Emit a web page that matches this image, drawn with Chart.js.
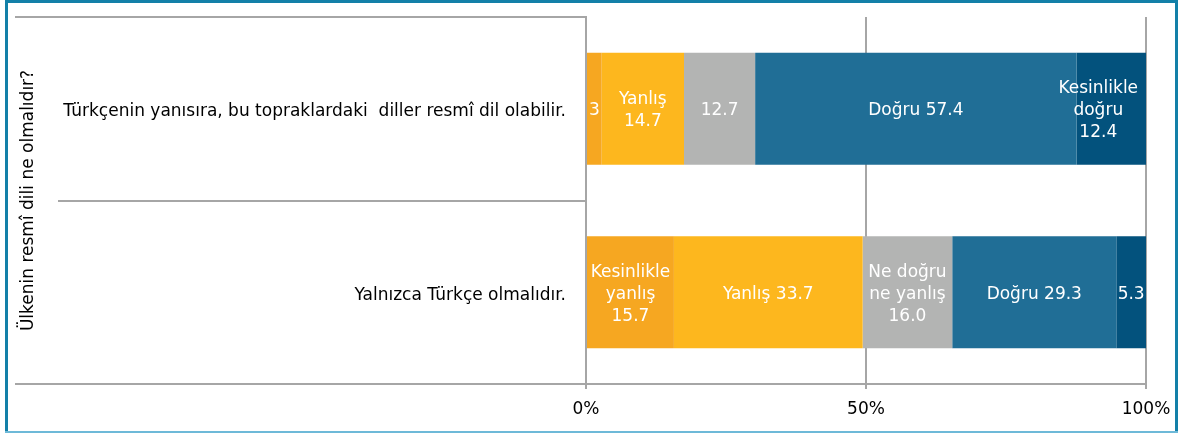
<!DOCTYPE html>
<html><head><meta charset="utf-8">
<script src="https://cdn.jsdelivr.net/npm/chart.js@4/dist/chart.umd.min.js"></script>
<style>html,body{margin:0;padding:0;background:#fff;overflow:hidden;} #wrap{width:1181px;height:433px;position:relative;}</style>
</head><body><div id="wrap"><canvas id="c" width="1181" height="433"></canvas></div>
<script>
// ---- data ----
const categories = ['Türkçenin yanısıra, bu topraklardaki  diller resmî dil olabilir.', 'Yalnızca Türkçe olmalıdır.'];
const seriesNames = ['Kesinlikle yanlış', 'Yanlış', 'Ne doğru ne yanlış', 'Doğru', 'Kesinlikle doğru'];
const kesinlikleYanlis = [2.8, 15.7];
const yanlis = [14.7, 33.7];
const neDogruNeYanlis = [12.7, 16.0];
const dogru = [57.4, 29.3];
const kesinlikleDogru = [12.4, 5.3];
const tickValues = [0, 50, 100];
const axisTitle = 'Ülkenin resmî dili ne olmalıdır?';
// data label text lines per segment ('{v}' = value)
const labelTemplates = [
  [['3'], ['Kesinlikle', 'yanlış', '{v}']],
  [['Yanlış', '{v}'], ['Yanlış {v}']],
  [['{v}'], ['Ne doğru', 'ne yanlış', '{v}']],
  [['Doğru {v}'], ['Doğru {v}']],
  [['Kesinlikle', 'doğru', '{v}'], ['{v}']]
];

// ---- styles ----
const colors = ['#F6A721', '#FDB71E', '#B3B4B3', '#206E96', '#03527D'];
const gridColor = '#A6A6A6';
const FONT = 'DejaVu Sans';
Chart.defaults.font.family = FONT;
Chart.defaults.font.size = 17;
Chart.defaults.color = '#000';

const seriesValues = [kesinlikleYanlis, yanlis, neDogruNeYanlis, dogru, kesinlikleDogru];

const labelOffsets = { '4-0': -13 };

const dataLabelPlugin = {
  id: 'dataLabels',
  afterDatasetsDraw(chart) {
    const ctx = chart.ctx;
    ctx.save();
    ctx.fillStyle = '#fff';
    ctx.font = '17px "' + FONT + '"';
    ctx.textAlign = 'center';
    ctx.textBaseline = 'middle';
    const lh = 22;
    chart.data.datasets.forEach((ds, di) => {
      const meta = chart.getDatasetMeta(di);
      meta.data.forEach((el, i) => {
        const v = ds.data[i];
        const lines = labelTemplates[di][i].map(t => t.replace('{v}', v.toFixed(1)));
        const cx = (el.x + el.base) / 2 + (labelOffsets[di + '-' + i] || 0);
        const cy = el.y + 2;
        const y0 = cy - (lines.length - 1) * lh / 2;
        lines.forEach((ln, k) => ctx.fillText(ln, cx, y0 + k * lh));
      });
    });
    ctx.restore();
  }
};

const framePlugin = {
  id: 'frame',
  afterDraw(chart) {
    const ctx = chart.ctx;
    const ca = chart.chartArea;
    const ys = chart.scales.y;
    ctx.save();
    // extended category separator lines
    ctx.fillStyle = gridColor;
    const mid = Math.round((ys.getPixelForValue(0) + ys.getPixelForValue(1)) / 2);
    ctx.fillRect(15, Math.round(ca.top) - 1, ca.left - 15, 2);
    ctx.fillRect(58, mid - 1, ca.left - 58, 2);
    ctx.fillRect(15, Math.round(ca.bottom) - 1, ca.left - 15, 2);
    // outer frame
    ctx.fillStyle = '#1380A8';
    ctx.fillRect(5, 0, 1173, 3);
    ctx.fillRect(5, 0, 3, 433);
    ctx.fillRect(1175, 0, 3, 433);
    ctx.fillStyle = '#6DB9D8';
    ctx.fillRect(5, 431, 1173, 2);
    ctx.restore();
  }
};

new Chart(document.getElementById('c'), {
  type: 'bar',
  data: {
    labels: categories,
    datasets: seriesNames.map((n, i) => ({
      label: n,
      data: seriesValues[i],
      backgroundColor: colors[i],
      borderWidth: 0,
      barPercentage: 0.61,
      categoryPercentage: 1
    }))
  },
  options: {
    indexAxis: 'y',
    responsive: false,
    devicePixelRatio: 1,
    animation: false,
    layout: { padding: { top: 17, right: 35, bottom: 0, left: 0 } },
    plugins: { legend: { display: false }, tooltip: { enabled: false } },
    scales: {
      x: {
        stacked: true, min: 0, max: 100,
        afterBuildTicks: s => { s.ticks = tickValues.map(v => ({ value: v })); },
        ticks: { callback: v => v + '%', padding: 10, maxRotation: 0, autoSkip: false },
        grid: { color: gridColor, lineWidth: 2, tickLength: 5, drawTicks: true },
        border: { display: true, color: gridColor, width: 2 },
        afterFit: s => { s.height = 49; }
      },
      y: {
        stacked: true,
        grid: { display: false, drawTicks: true, tickLength: 20 },
        border: { display: true, color: gridColor, width: 2 },
        ticks: { padding: 0, autoSkip: false, labelOffset: 3 },
        title: { display: true, text: axisTitle, padding: { top: 18, bottom: 0 } },
        afterFit: s => { s.width = 586; }
      }
    }
  },
  plugins: [dataLabelPlugin, framePlugin]
});
</script>
</body></html>
